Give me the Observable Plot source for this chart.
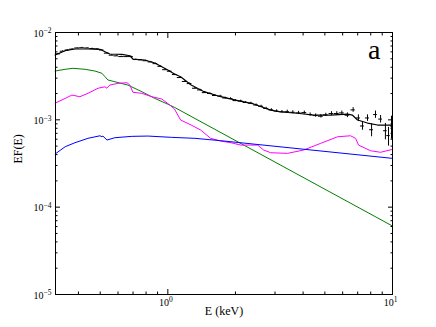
<!DOCTYPE html>
<html>
<head>
<meta charset="utf-8">
<script src="https://cdn.jsdelivr.net/npm/d3@7"></script>
<script src="https://cdn.jsdelivr.net/npm/@observablehq/plot@0.6"></script>
<style>
  html, body { margin: 0; padding: 0; background: #fff; }
  #chart { width: 436px; height: 327px; }
</style>
</head>
<body>
<div id="chart"></div>
<script>
// ---- Data (E in keV, EF(E)) ----
const modelE = [0.315,0.349,0.386,0.441,0.499,0.525,0.552,0.625,0.678,0.699,0.79,0.875,1.0,1.07,1.14,1.27,1.45,1.72,2.05,2.41,2.87,3.18,3.78,4.46,5.3,6.31,6.64,6.99,7.74,8.58,10];
const modelF = [5.52e-3,6.19e-3,6.47e-3,6.47e-3,6.42e-3,6.03e-3,5.67e-3,5.62e-3,5.42e-3,4.97e-3,4.84e-3,4.48e-3,3.72e-3,3.35e-3,3.12e-3,2.50e-3,2.10e-3,1.84e-3,1.66e-3,1.52e-3,1.29e-3,1.23e-3,1.19e-3,1.13e-3,1.13e-3,1.16e-3,1.13e-3,9.95e-4,9.19e-4,8.72e-4,8.72e-4];

const greenE = [0.315,0.349,0.378,0.428,0.474,0.509,0.525,0.541,0.581,0.664,0.766,0.875,1.0,1.07,10];
const greenF = [3.62e-3,3.79e-3,3.89e-3,3.79e-3,3.62e-3,3.41e-3,3.12e-3,2.86e-3,2.73e-3,2.50e-3,2.10e-3,1.76e-3,1.51e-3,1.39e-3,6.08e-5];

const magentaE = [0.315,0.349,0.374,0.406,0.441,0.489,0.525,0.536,0.552,0.60,0.658,0.678,0.699,0.766,0.849,0.94,1.02,1.07,1.14,1.27,1.40,1.55,1.72,1.91,2.11,2.34,2.51,2.67,2.87,3.41,4.02,4.79,5.7,6.5,6.85,7.06,7.98,8.85,10];
const magentaF = [1.55e-3,1.76e-3,1.92e-3,1.84e-3,2.01e-3,2.30e-3,2.39e-3,2.30e-3,2.50e-3,2.62e-3,2.66e-3,2.50e-3,2.07e-3,2.01e-3,1.84e-3,1.73e-3,1.48e-3,1.33e-3,9.95e-4,8.72e-4,7.64e-4,6.14e-4,5.71e-4,5.47e-4,5.14e-4,5.14e-4,5.14e-4,4.51e-4,4.20e-4,4.13e-4,4.51e-4,5.38e-4,6.40e-4,6.57e-4,6.14e-4,5.14e-4,4.43e-4,4.25e-4,4.59e-4];

const blueE = [0.315,0.349,0.386,0.441,0.499,0.509,0.514,0.536,0.581,0.692,0.815,1.04,1.32,1.72,10];
const blueF = [4.06e-4,4.92e-4,5.47e-4,6.14e-4,6.57e-4,6.40e-4,6.52e-4,5.87e-4,6.24e-4,6.47e-4,6.52e-4,6.30e-4,6.14e-4,5.77e-4,3.62e-4];

// observed points: [E, E half-width, EF(E), error]
const obsPoints = [
  [0.325,0.008,5.7e-3,6e-5],[0.34,0.008,6.1e-3,6e-5],[0.357,0.008,6.3e-3,6e-5],[0.375,0.009,6.45e-3,6e-5],
  [0.395,0.01,6.65e-3,6e-5],[0.415,0.01,6.7e-3,6e-5],[0.437,0.011,6.65e-3,6e-5],[0.46,0.011,6.55e-3,6e-5],
  [0.483,0.012,6.5e-3,6e-5],[0.508,0.012,6.3e-3,6e-5],[0.535,0.013,5.8e-3,6e-5],[0.562,0.014,5.5e-3,6e-5],
  [0.59,0.014,5.4e-3,6e-5],[0.62,0.015,5.3e-3,6e-5],[0.652,0.016,5.3e-3,6e-5],[0.685,0.017,5.3e-3,6e-5],
  [0.72,0.018,4.9e-3,6e-5],[0.757,0.018,4.85e-3,6e-5],[0.796,0.02,4.75e-3,6e-5],[0.837,0.02,4.6e-3,6e-5],
  [0.88,0.021,4.4e-3,6e-5],[0.925,0.022,4.1e-3,5e-5],[0.972,0.024,3.75e-3,5e-5],[1.02,0.025,3.6e-3,5e-5],
  [1.075,0.027,3.3e-3,4e-5],[1.13,0.028,3.05e-3,4e-5],[1.19,0.03,2.75e-3,4e-5],[1.25,0.03,2.6e-3,4e-5],
  [1.32,0.033,2.3e-3,4e-5],[1.39,0.035,2.2e-3,4e-5],[1.46,0.036,2.05e-3,4e-5],[1.54,0.038,2.0e-3,4e-5],
  [1.62,0.04,1.9e-3,4e-5],[1.71,0.042,1.87e-3,4e-5],[1.80,0.045,1.78e-3,4e-5],[1.90,0.047,1.75e-3,4e-5],
  [2.0,0.05,1.66e-3,4e-5],[2.11,0.052,1.64e-3,4e-5],[2.22,0.055,1.58e-3,4e-5],[2.34,0.058,1.55e-3,4e-5],
  [2.47,0.06,1.48e-3,4e-5],[2.6,0.065,1.43e-3,4e-5],[2.74,0.068,1.35e-3,4e-5],[2.89,0.07,1.3e-3,4e-5],
  [3.05,0.075,1.26e-3,4e-5],[3.22,0.08,1.24e-3,4e-5],[3.4,0.085,1.24e-3,5e-5],[3.6,0.09,1.22e-3,5e-5],
  [3.82,0.1,1.2e-3,5e-5],[4.05,0.1,1.21e-3,5e-5],[4.3,0.11,1.15e-3,5e-5],[4.55,0.11,1.12e-3,5e-5],
  [4.8,0.12,1.1e-3,5e-5],[5.05,0.12,1.14e-3,5e-5],[5.35,0.13,1.18e-3,6e-5],[5.65,0.14,1.18e-3,6e-5],
  [5.95,0.15,1.2e-3,6e-5],[6.3,0.15,1.13e-3,7e-5],[6.68,0.15,1.3e-3,8e-5],[7.05,0.15,1.05e-3,9e-5],
  [7.35,0.15,8.5e-4,9e-5],[7.74,0.16,1.05e-3,9e-5],[8.07,0.16,7.7e-4,1.3e-4],[8.4,0.16,1.15e-3,1.1e-4],
  [8.85,0.17,1.02e-3,1e-4],[9.3,0.17,7.5e-4,1.6e-4],[9.6,0.17,6.6e-4,1.6e-4],[9.9,0.1,8.5e-4,2.5e-4]
];

const xMajor = [1, 10];
const xMinor = [0.4,0.5,0.6,0.7,0.8,0.9,2,3,4,5,6,7,8,9];
const xTickLabels = ["10^0", "10^1"];
const yMajor = [1e-5, 1e-4, 1e-3, 1e-2];
const yMinor = [2e-5,3e-5,4e-5,5e-5,6e-5,7e-5,8e-5,9e-5,2e-4,3e-4,4e-4,5e-4,6e-4,7e-4,8e-4,9e-4,2e-3,3e-3,4e-3,5e-3,6e-3,7e-3,8e-3,9e-3];
const yTickLabels = ["10^\u22125", "10^\u22124", "10^\u22123", "10^\u22122"];

const xLabel = "E (keV)";
const yLabel = "EF(E)";
const panelLabel = "a";

const toRows = (xs, ys) => xs.map((x, i) => ({x, y: ys[i]}));
const model = toRows(modelE, modelF);
const green = toRows(greenE, greenF);
const magenta = toRows(magentaE, magentaF);
const blue = toRows(blueE, blueF);
const obs = obsPoints.map(([e, de, f, df]) => ({e, e1: e - de, e2: e + de, f, f1: f - df, f2: f + df}));

const noText = () => null;

const chart = Plot.plot({
  width: 436,
  height: 327,
  marginLeft: 55,
  marginRight: 44,
  marginTop: 32,
  marginBottom: 33,
  style: {fontFamily: "'Liberation Serif', serif", fontSize: "10px", background: "white", color: "black"},
  x: {type: "log", domain: [0.3162, 10]},
  y: {type: "log", domain: [1e-5, 1e-2]},
  marks: [
    // data crosses
    Plot.ruleY(obs, {y: "f", x1: "e1", x2: "e2", stroke: "black", strokeWidth: 1}),
    Plot.ruleX(obs, {x: "e", y1: "f1", y2: "f2", stroke: "black", strokeWidth: 1}),
    // model components
    Plot.line(green, {x: "x", y: "y", stroke: "#008000", strokeWidth: 1}),
    Plot.line(magenta, {x: "x", y: "y", stroke: "#ff00ff", strokeWidth: 1}),
    Plot.line(blue, {x: "x", y: "y", stroke: "#0000ff", strokeWidth: 1}),
    Plot.line(model, {x: "x", y: "y", stroke: "black", strokeWidth: 1.2}),
    // ticks (inward, all sides)
    Plot.axisX(xMajor, {anchor: "bottom", tickSize: -5, tickFormat: noText, label: null}),
    Plot.axisX(xMajor, {anchor: "top", tickSize: -5, tickFormat: noText, label: null}),
    Plot.axisX(xMinor, {anchor: "bottom", tickSize: -2.5, tickFormat: noText, label: null}),
    Plot.axisX(xMinor, {anchor: "top", tickSize: -2.5, tickFormat: noText, label: null}),
    Plot.axisY(yMajor, {anchor: "left", tickSize: -5, tickFormat: noText, label: null}),
    Plot.axisY(yMajor, {anchor: "right", tickSize: -5, tickFormat: noText, label: null}),
    Plot.axisY(yMinor, {anchor: "left", tickSize: -2.5, tickFormat: noText, label: null}),
    Plot.axisY(yMinor, {anchor: "right", tickSize: -2.5, tickFormat: noText, label: null}),
    Plot.frame({stroke: "black", strokeWidth: 1}),
    // tick labels
    Plot.text(xMajor, {x: d => d, frameAnchor: "bottom", dx: -2, dy: 11, text: (d, i) => xTickLabels[i], fontSize: 10}),
    Plot.text(yMajor, {y: d => d, frameAnchor: "left", dx: -4, dy: 1, textAnchor: "end", text: (d, i) => yTickLabels[i], fontSize: 10}),
    // axis labels
    Plot.text([xLabel], {frameAnchor: "bottom", dy: 20, text: d => d, fontSize: 12}),
    Plot.text([yLabel], {frameAnchor: "left", dx: -37, rotate: -90, text: d => d, fontSize: 12}),
    Plot.text([panelLabel], {frameAnchor: "top-right", dx: -12, dy: 26, lineAnchor: "bottom", textAnchor: "end", text: d => d, fontSize: 28})
  ]
});

// render exponents as superscripts
chart.querySelectorAll("text").forEach(t => {
  const s = t.textContent;
  if (t.children.length === 0 && s.indexOf("^") > 0) {
    const parts = s.split("^");
    t.textContent = parts[0];
    const ts = document.createElementNS("http://www.w3.org/2000/svg", "tspan");
    ts.setAttribute("dy", "-0.45em");
    ts.setAttribute("font-size", "7.5px");
    ts.textContent = parts[1];
    t.appendChild(ts);
  }
});

document.getElementById("chart").appendChild(chart);
</script>
</body>
</html>
